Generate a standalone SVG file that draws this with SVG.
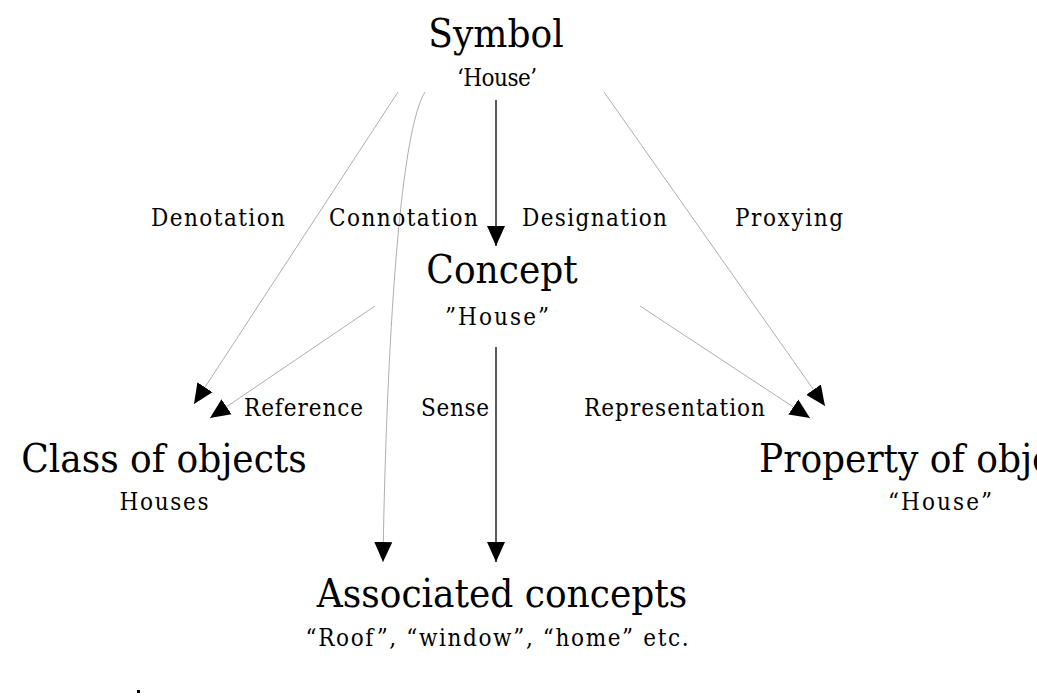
<svg xmlns="http://www.w3.org/2000/svg" width="1037" height="697" viewBox="0 0 1037 697">
<style>
text{font-family:"DejaVu Serif Condensed","DejaVu Serif",serif;font-stretch:condensed;fill:#000;text-anchor:middle}
.big{font-size:40px}.sm{font-size:24px}.lb{font-size:24px;text-anchor:start}
.thin{stroke:#999;stroke-width:0.8;fill:none}
.dark{stroke:#000;stroke-width:1.3;fill:none}
</style>
<defs>
<marker id="a" markerUnits="userSpaceOnUse" markerWidth="24" markerHeight="20" refX="20" refY="10" orient="auto" viewBox="0 0 24 20"><path d="M0,1 L20,10 L0,19 Z" fill="#000"/></marker>
</defs>
<rect width="1037" height="697" fill="#fff"/>
<g id="connectors">
<path class="thin" d="M398,92 L194,404" marker-end="url(#a)"/>
<path class="thin" d="M425,92 C395,140 385,420 383,562" marker-end="url(#a)"/>
<path class="dark" d="M496,100 L496,246" marker-end="url(#a)"/>
<path class="thin" d="M604,92 L825,406" marker-end="url(#a)"/>
<path class="thin" d="M375,306 L210,418" marker-end="url(#a)"/>
<path class="thin" d="M640,306 L810,418" marker-end="url(#a)"/>
<path class="dark" d="M496,347 L496,562" marker-end="url(#a)"/>
</g>
<g id="labels">
<text class="lb" x="151" y="226" textLength="134">Denotation</text>
<text class="lb" x="329" y="226" textLength="149">Connotation</text>
<text class="lb" x="522" y="226" textLength="145">Designation</text>
<text class="lb" x="735" y="226" textLength="108">Proxying</text>
<text class="lb" x="244" y="416" textLength="119">Reference</text>
<text class="lb" x="421" y="416" textLength="68">Sense</text>
<text class="lb" x="584" y="416" textLength="181">Representation</text>
</g>
<g id="symbol"><text class="big" x="496" y="47">Symbol</text><text class="sm" x="497" y="86" textLength="80">‘House’</text></g>
<g id="concept"><text class="big" x="502" y="283">Concept</text><text class="sm" x="497" y="325" textLength="104">”House”</text></g>
<g id="class"><text class="big" x="164" y="472">Class of objects</text><text class="sm" x="164" y="510" textLength="89">Houses</text></g>
<g id="property"><text class="big" x="759" y="472" style="text-anchor:start">Property of objects</text><text class="sm" x="940" y="510" textLength="104">“House”</text></g>
<g id="associated"><text class="big" x="502" y="607">Associated concepts</text><text class="sm" x="497" y="646" textLength="383">“Roof”, “window”, “home” etc.</text></g>
<rect x="137" y="690" width="3" height="3" fill="#000"/>
</svg>
